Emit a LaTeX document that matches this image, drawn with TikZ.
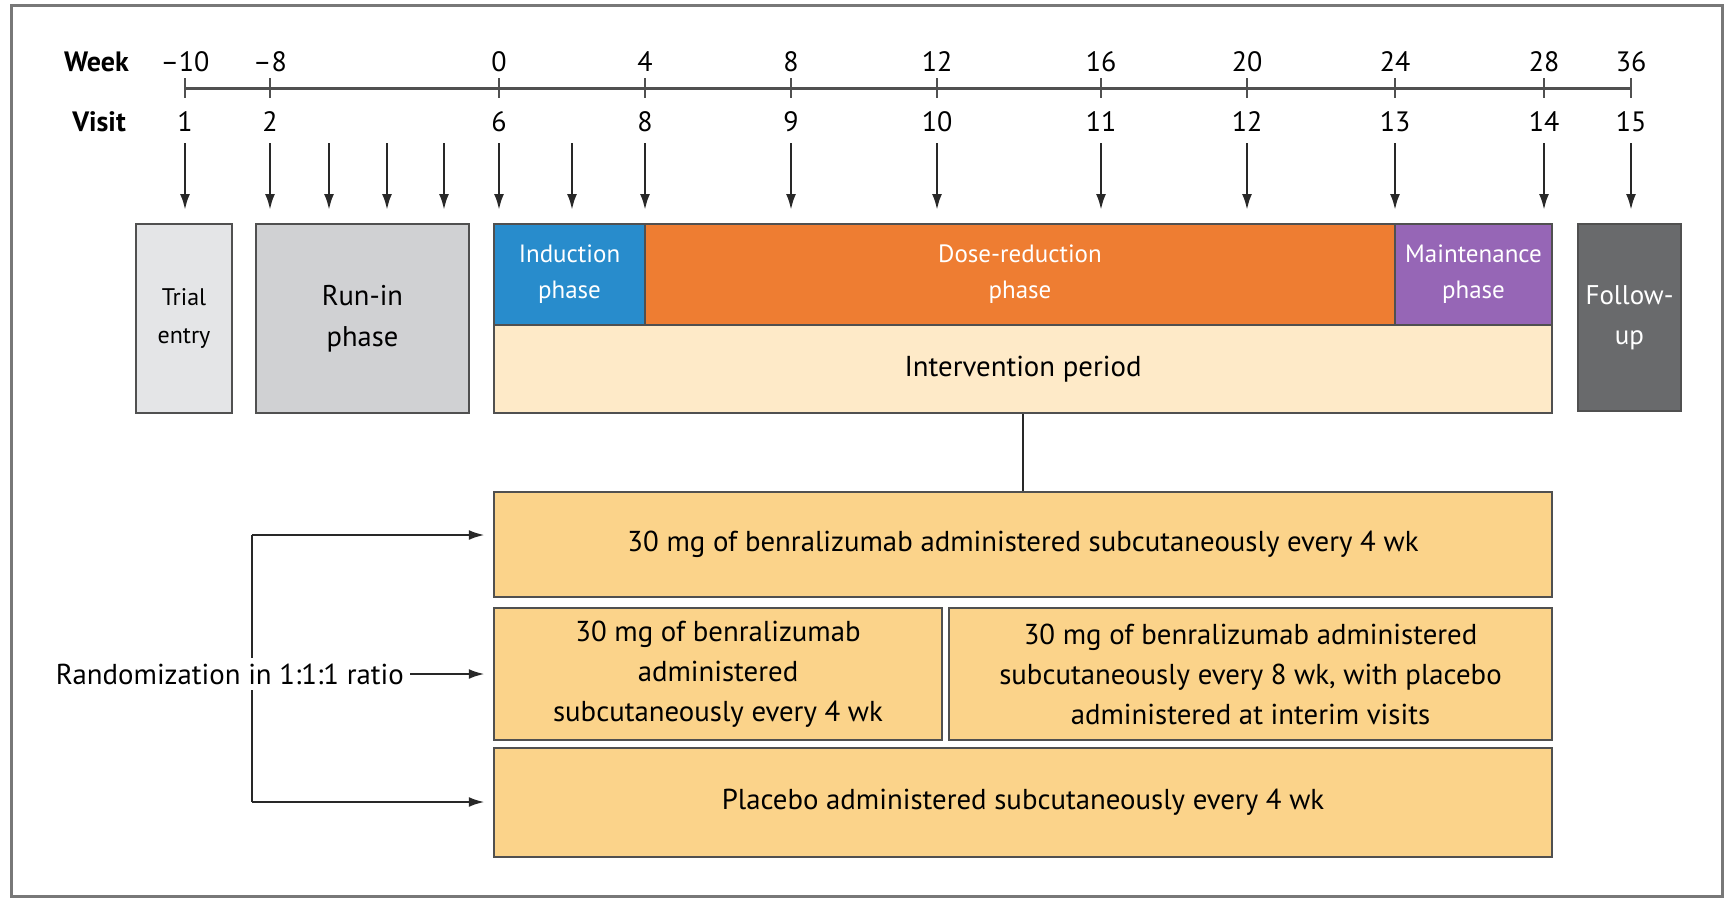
\documentclass[tikz,border=0pt]{standalone}
\usepackage{fontspec}
\setmainfont{PT Sans}
\usetikzlibrary{arrows.meta}
\definecolor{framegray}{RGB}{120,120,120}
\definecolor{boxline}{RGB}{80,80,80}
\definecolor{inkline}{RGB}{40,40,40}
\definecolor{trialfill}{RGB}{228,229,231}
\definecolor{runinfill}{RGB}{208,209,211}
\definecolor{followfill}{RGB}{105,106,108}
\definecolor{indblue}{RGB}{40,140,204}
\definecolor{doseorange}{RGB}{238,125,50}
\definecolor{maintpurple}{RGB}{150,102,182}
\definecolor{intervcream}{RGB}{254,234,200}
\definecolor{armtan}{RGB}{251,211,138}
\begin{document}
\begin{tikzpicture}[x=1pt,y=-1pt,
  box/.style={draw=boxline, line width=2.5pt, inner sep=0pt, align=center, anchor=center},
  txt/.style={font=\fontsize{28.8}{40}\selectfont},
  phasetxt/.style={font=\fontsize{25}{36}\selectfont, text=white},
  lbl/.style={font=\fontsize{28}{32}\selectfont, inner sep=0pt},
  varrow/.style={inkline, line width=2.5pt, -{Latex[length=16pt,width=10pt]}},
  harrow/.style={inkline, line width=2.5pt, -{Latex[length=16pt,width=10pt]}},
  plainline/.style={inkline, line width=2.5pt}
]
\useasboundingbox (0,0) rectangle (1729,900);
\draw[framegray, line width=3pt] (11,5) rectangle (1722,896);

% timeline
\coordinate (tl0) at (185,88);
\coordinate (tl1) at (1631,88);
\draw[boxline, line width=3pt] (tl0) -- (tl1);
\node[lbl, anchor=east, font=\fontsize{28}{32}\bfseries] (weeklbl) at (129,62) {Week};
\node[lbl, anchor=east, font=\fontsize{28}{32}\bfseries] (visitlbl) at (126,122) {Visit};
\foreach \x/\w/\v in {185/{–10}/1, 270/{–8}/2, 499/0/6, 645/4/8, 791/8/9, 937/12/10, 1101/16/11, 1247/20/12, 1395/24/13, 1544/28/14, 1631/36/15}{
  \draw[boxline, line width=2.5pt] (\x,78) -- (\x,98);
  \node[lbl] (wk\v) at (\x,62) {\w};
  \node[lbl] (vs\v) at (\x,122) {\v};
  \coordinate (at\v) at (\x,143);
  \coordinate (ab\v) at (\x,210);
  \draw[varrow] (at\v) -- (ab\v);
}
\foreach \x/\n in {329/3, 387/4, 444/5, 572/7}{
  \coordinate (at\n) at (\x,143);
  \coordinate (ab\n) at (\x,210);
  \draw[varrow] (at\n) -- (ab\n);
}

% phase boxes
\node[box, fill=trialfill, minimum width=96pt, minimum height=189pt, font=\fontsize{24}{38}\selectfont] (trial) at (184,318.5) {Trial\\entry};
\node[box, fill=runinfill, minimum width=213pt, minimum height=189pt, font=\fontsize{28.5}{41}\selectfont] (runin) at (362.5,318.5) {Run-in\\phase};
\node[box, fill=indblue, minimum width=151pt, minimum height=101pt, phasetxt] (induct) at (569.5,274.5) {Induction\\phase};
\node[box, fill=doseorange, minimum width=750pt, minimum height=101pt, phasetxt] (dose) at (1020,274.5) {Dose-reduction\\phase};
\node[box, fill=maintpurple, minimum width=157pt, minimum height=101pt, phasetxt] (maint) at (1473.5,274.5) {Maintenance\\phase};
\node[box, fill=intervcream, minimum width=1058pt, minimum height=88pt, txt] (interv) at (1023,369) {Intervention period};
\node[box, fill=followfill, minimum width=103pt, minimum height=187pt, font=\fontsize{27}{40}\selectfont, text=white] (follow) at (1629.5,317.5) {Follow-\\up};

% arm boxes
\node[box, fill=armtan, minimum width=1058pt, minimum height=105pt, txt] (arm1) at (1023,544.5) {30 mg of benralizumab administered subcutaneously every 4 wk};
\node[box, fill=armtan, minimum width=448pt, minimum height=132pt, txt] (arm2a) at (718,674) {30 mg of benralizumab\\administered\\subcutaneously every 4 wk};
\node[box, fill=armtan, minimum width=603pt, minimum height=132pt, txt] (arm2b) at (1250.5,674) {30 mg of benralizumab administered\\subcutaneously every 8 wk, with placebo\\administered at interim visits};
\node[box, fill=armtan, minimum width=1058pt, minimum height=109pt, txt] (arm3) at (1023,802.5) {Placebo administered subcutaneously every 4 wk};

\draw[plainline] (interv.south) -- (arm1.north);

% randomization
\coordinate (bt) at (252,535);
\coordinate (bb) at (252,802);
\draw[plainline] (bt) -- (bb);
\draw[harrow, shorten >=8pt] (bt) -- (bt -| arm1.west);
\draw[harrow, shorten >=8pt] (bb) -- (bb -| arm3.west);
\node[txt, fill=white, inner sep=6pt, anchor=east] (rand) at (410,674) {Randomization in 1:1:1 ratio};
\draw[harrow, shorten >=8pt] (rand.east) -- (arm2a.west);
\end{tikzpicture}
\end{document}
